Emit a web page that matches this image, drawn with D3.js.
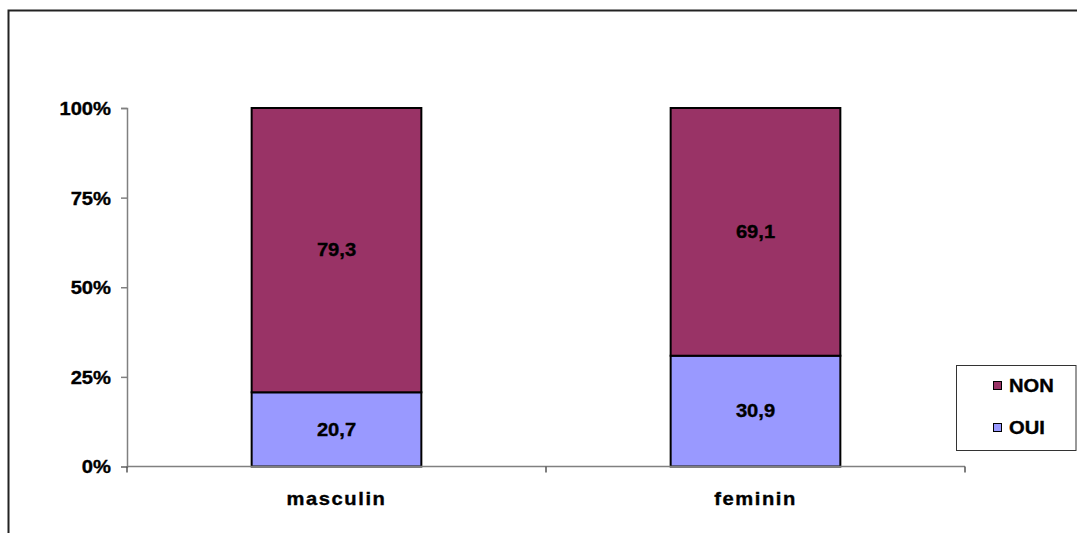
<!DOCTYPE html>
<html>
<head>
<meta charset="utf-8">
<script src="https://cdn.jsdelivr.net/npm/d3@7/dist/d3.min.js"></script>
<style>
  html, body { margin: 0; padding: 0; background: #fff; }
  svg { display: block; }
  text { font-family: "Liberation Sans", Arial, sans-serif; font-weight: bold; fill: #000; stroke: #000; stroke-width: 0.35px; }
</style>
</head>
<body>
<svg id="chart" width="1077" height="533"></svg>
<script>
// Share answering OUI / NON, by sex (percent)
const categories = ["masculin", "feminin"];
const seriesNames = ["OUI", "NON"];
const oui = [20.7, 30.9];
const non = [79.3, 69.1];
const yTicks = [0, 25, 50, 75, 100];
const colors = { OUI: "#9999FF", NON: "#993366" };

const svg = d3.select("#chart");
const W = 1077, H = 533;
const plot = { left: 127, right: 965, top: 108, bottom: 466.5 };
const sx = 1.12;      // horizontal text stretch
const fs = "18px";

// outer frame
svg.append("rect")
  .attr("x", 8.5).attr("y", 10.5)
  .attr("width", W + 10).attr("height", H + 10)
  .attr("fill", "none").attr("stroke", "#222").attr("stroke-width", 2);

const x = d3.scaleBand().domain(categories).range([plot.left, plot.right]).padding(0);
const y = d3.scaleLinear().domain([0, 100]).range([plot.bottom, plot.top]);
const barW = x.bandwidth() * 0.405;

const rows = categories.map((c, i) => ({ cat: c, OUI: oui[i], NON: non[i] }));
const stacked = d3.stack().keys(seriesNames)(rows);

// bars
const g = svg.append("g");
stacked.forEach(layer => {
  g.selectAll(null).data(layer).join("rect")
    .attr("x", d => x(d.data.cat) + (x.bandwidth() - barW) / 2)
    .attr("y", d => y(d[1]))
    .attr("width", barW)
    .attr("height", d => y(d[0]) - y(d[1]))
    .attr("fill", colors[layer.key])
    .attr("stroke", "#000").attr("stroke-width", 2);
});

// value labels
stacked.forEach(layer => {
  g.selectAll(null).data(layer).join("text")
    .attr("transform", d => `translate(${x(d.data.cat) + x.bandwidth() / 2},${y((d[0] + d[1]) / 2)}) scale(${sx},1)`)
    .attr("text-anchor", "middle").attr("dy", "0.34em")
    .style("font-size", fs)
    .text(d => String(d.data[layer.key]).replace(".", ","));
});

// y axis
const yAxis = svg.append("g").attr("transform", `translate(${plot.left},0)`)
  .call(d3.axisLeft(y).tickValues(yTicks).tickSize(6).tickFormat(d => d + "%"));
yAxis.select(".domain").attr("stroke", "#808080").attr("stroke-width", 1.5);
yAxis.selectAll(".tick line").attr("stroke", "#808080").attr("stroke-width", 1.5);
yAxis.selectAll(".tick text")
  .attr("x", null).attr("dy", "0.36em")
  .attr("transform", `translate(-16,0) scale(${sx},1)`)
  .style("font-size", fs).style("font-family", "Liberation Sans, Arial, sans-serif");

// x axis: baseline with ticks at category boundaries
const xa = svg.append("g");
xa.append("line")
  .attr("x1", plot.left).attr("x2", plot.right)
  .attr("y1", plot.bottom).attr("y2", plot.bottom)
  .attr("stroke", "#808080").attr("stroke-width", 1.5);
const bounds = categories.map(c => x(c)).concat([x(categories[categories.length - 1]) + x.bandwidth()]);
xa.selectAll(null).data(bounds).join("line")
  .attr("x1", d => d).attr("x2", d => d)
  .attr("y1", plot.bottom).attr("y2", plot.bottom + 6)
  .attr("stroke", "#555").attr("stroke-width", 1.5);
xa.selectAll(null).data(categories).join("text")
  .attr("transform", d => `translate(${x(d) + x.bandwidth() / 2},505) scale(${sx},1)`)
  .attr("text-anchor", "middle")
  .style("font-size", fs).style("letter-spacing", "1.4px")
  .text(d => d);

// legend
const lg = svg.append("g");
lg.append("rect")
  .attr("x", 956.5).attr("y", 365.5).attr("width", 119.5).attr("height", 85)
  .attr("fill", "#fff").attr("stroke", "#333").attr("stroke-width", 1);
const legendItems = ["NON", "OUI"];
legendItems.forEach((k, i) => {
  const cy = 385.5 + i * 42;
  lg.append("rect")
    .attr("x", 993.5).attr("y", cy - 4).attr("width", 8).attr("height", 8)
    .attr("fill", colors[k]).attr("stroke", "#000").attr("stroke-width", 1);
  lg.append("text")
    .attr("transform", `translate(1009,${cy}) scale(${sx},1)`)
    .attr("dy", "0.36em")
    .style("font-size", fs)
    .text(k);
});
</script>
</body>
</html>
